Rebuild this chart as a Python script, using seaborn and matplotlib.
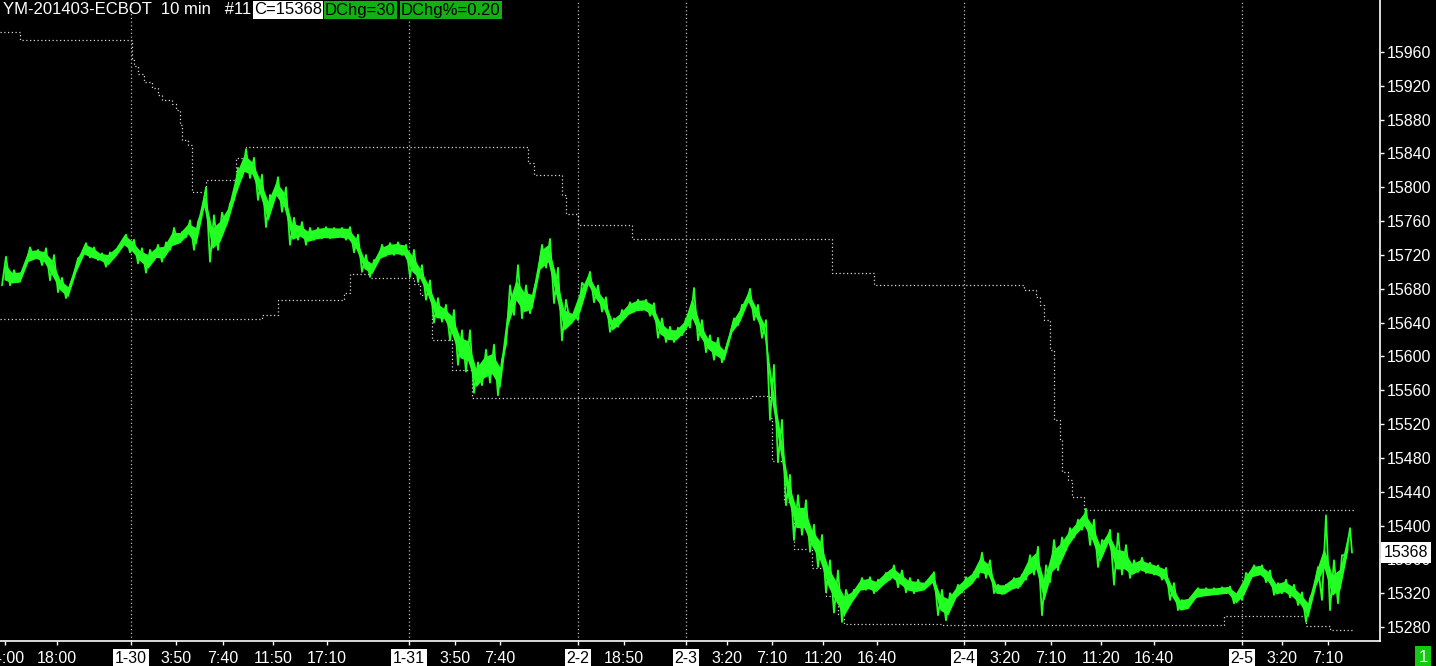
import numpy as np
import pandas as pd
import matplotlib
matplotlib.use("Agg")
import matplotlib.pyplot as plt
import seaborn as sns

# YM-201403 10 min bars (every 4th bar: high / low)
bar_high = [15718, 15702, 15700, 15729, 15726, 15728, 15720, 15693, 15684, 15716,
            15734, 15729, 15722, 15723, 15729, 15744, 15738, 15728, 15726, 15732,
            15735, 15752, 15747, 15761, 15759, 15800, 15767, 15770, 15781, 15823,
            15845, 15835, 15815, 15791, 15812, 15800, 15764, 15759, 15752, 15752,
            15753, 15752, 15752, 15753, 15744, 15720, 15714, 15732, 15734, 15735,
            15732, 15726, 15708, 15690, 15669, 15661, 15655, 15631, 15631, 15593,
            15608, 15614, 15596, 15684, 15708, 15684, 15679, 15732, 15739, 15705,
            15667, 15651, 15687, 15700, 15684, 15670, 15645, 15655, 15664, 15667,
            15667, 15663, 15645, 15635, 15634, 15645, 15681, 15643, 15625, 15622,
            15610, 15645, 15661, 15680, 15661, 15643, 15590, 15525, 15460, 15436,
            15430, 15401, 15389, 15359, 15347, 15324, 15324, 15338, 15339, 15336,
            15344, 15353, 15347, 15338, 15336, 15333, 15345, 15324, 15320, 15330,
            15339, 15345, 15368, 15359, 15330, 15330, 15338, 15342, 15365, 15375,
            15353, 15383, 15386, 15397, 15407, 15420, 15407, 15383, 15395, 15391,
            15377, 15359, 15362, 15356, 15353, 15350, 15332, 15312, 15314, 15326,
            15326, 15326, 15327, 15328, 15321, 15344, 15353, 15353, 15347, 15332,
            15336, 15330, 15321, 15314, 15351, 15412, 15359, 15365, 15397]
bar_low = [15684, 15684, 15688, 15708, 15716, 15708, 15690, 15676, 15669, 15696,
           15720, 15717, 15714, 15706, 15719, 15732, 15723, 15710, 15699, 15714,
           15712, 15726, 15734, 15741, 15726, 15771, 15712, 15726, 15755, 15785,
           15812, 15811, 15785, 15753, 15785, 15771, 15732, 15738, 15732, 15738,
           15740, 15740, 15741, 15738, 15723, 15700, 15694, 15712, 15719, 15720,
           15720, 15694, 15688, 15667, 15640, 15641, 15619, 15590, 15582, 15557,
           15566, 15569, 15554, 15614, 15649, 15645, 15651, 15696, 15705, 15663,
           15619, 15640, 15643, 15682, 15664, 15653, 15629, 15635, 15647, 15653,
           15655, 15648, 15622, 15617, 15617, 15625, 15634, 15619, 15605, 15596,
           15593, 15625, 15637, 15661, 15643, 15622, 15525, 15475, 15424, 15383,
           15389, 15369, 15351, 15321, 15297, 15286, 15308, 15321, 15324, 15320,
           15330, 15336, 15327, 15321, 15320, 15324, 15332, 15294, 15288, 15312,
           15321, 15330, 15339, 15338, 15320, 15319, 15324, 15326, 15336, 15342,
           15294, 15333, 15347, 15371, 15386, 15395, 15377, 15351, 15377, 15330,
           15342, 15338, 15345, 15344, 15342, 15336, 15312, 15300, 15302, 15315,
           15317, 15318, 15319, 15320, 15308, 15312, 15338, 15342, 15333, 15318,
           15320, 15315, 15306, 15286, 15324, 15312, 15300, 15308, 15365]
last_close = 15368

# price channel (step lines): bar number where a level starts, level
upper_bar = [0, 10, 66, 67, 69, 72, 76, 79, 81, 86, 88, 90, 91, 94, 96, 103, 118, 123,
             264, 267, 281, 283, 289, 316, 416, 437, 512, 518, 520, 522, 525, 527,
             530, 531, 534, 536, 542, 677]
upper_val = [15984, 15974, 15950, 15944, 15934, 15925, 15918, 15909, 15903, 15899,
             15891, 15874, 15856, 15850, 15794, 15809, 15835, 15848, 15829, 15815,
             15791, 15768, 15755, 15739, 15699, 15684, 15679, 15670, 15661, 15643,
             15608, 15525, 15501, 15463, 15454, 15434, 15418, 15418]
lower_bar = [0, 131, 139, 172, 175, 185, 207, 210, 216, 226, 236, 376, 385, 386, 392,
             397, 406, 413, 419, 422, 471, 612, 653, 665, 677]
lower_val = [15644, 15649, 15667, 15675, 15697, 15693, 15686, 15673, 15619, 15584,
             15551, 15553, 15527, 15476, 15428, 15372, 15350, 15317, 15295, 15284,
             15282, 15293, 15281, 15276, 15276]

# x axis: session starts and time marks (bar numbers)
day_bar = [65.5, 204.5, 289, 343, 482, 621]
day_label = ["1-30", "1-31", "2-2", "2-3", "2-4", "2-5"]
time_bar = [2.5, 28.5, 88, 111.5, 136.5, 163.5, 227.5, 250, 312, 363.5, 386,
            411.5, 438.5, 502.5, 525.5, 550.5, 577, 641, 664]
time_label = ["14:00", "18:00", "3:50", "7:40", "11:50", "17:10", "3:50", "7:40",
              "18:50", "3:20", "7:10", "11:20", "16:40", "3:20", "7:10", "11:20",
              "16:40", "3:20", "7:10"]
price_ticks = list(range(15280, 15961, 40))

sns.set_theme(style="dark", rc={"axes.facecolor": "black", "figure.facecolor": "black",
                                "axes.edgecolor": "white", "text.color": "white",
                                "xtick.color": "white", "ytick.color": "white"})
plt.rcParams["font.family"] = ["Liberation Sans", "DejaVu Sans"]

W, H = 1436, 666
fig = plt.figure(figsize=(W / 100, H / 100), dpi=100)
ax = fig.add_axes([0, 25 / H, 1380 / W, 641 / H])
ax.set_facecolor("black")

green = "#22ff22"
dot = (0, (1, 2))

# day separators
for b in day_bar:
    ax.axvline(b, color="#b8b8b8", lw=0.9, ls=dot, zorder=1)

# channel lines
sns.lineplot(x=upper_bar, y=upper_val, ax=ax, drawstyle="steps-post", color="#d8d8d8",
             lw=0.9, ls=dot, estimator=None, sort=False, zorder=2)
sns.lineplot(x=lower_bar, y=lower_val, ax=ax, drawstyle="steps-post", color="#d8d8d8",
             lw=0.9, ls=dot, estimator=None, sort=False, zorder=2)

# price bars: a body round the middle of each range, plus a sawtooth
# stroke through each sampled bar's low and high for the spiky texture
n = len(bar_high)
sample_bar = 2 + 4 * np.arange(n)
hi = np.array(bar_high, dtype=float)
lo = np.array(bar_low, dtype=float)
rng = hi - lo
mid = (hi + lo) / 2
half = np.minimum(rng / 2, np.minimum(np.maximum(6, 0.3 * rng), 12))
ax.fill_between(sample_bar, mid - half, mid + half, color=green, lw=0, zorder=3)
xs, ys = [], []
for k in range(n):
    xs += [sample_bar[k] - 1, sample_bar[k] + 1]
    ys += [bar_low[k], bar_high[k]]
xs.append(sample_bar[-1] + 2)
ys.append(last_close)
bars = pd.DataFrame({"bar": xs, "price": ys})
sns.lineplot(data=bars, x="bar", y="price", ax=ax, color=green, lw=1.3,
             estimator=None, sort=False, zorder=3)

ax.set_xlim(0, 690)
ax.set_ylim(15263.5, 16021.5)

# axes look
for s in ["top", "left"]:
    ax.spines[s].set_visible(False)
for s in ["bottom", "right"]:
    ax.spines[s].set_color("white")
    ax.spines[s].set_linewidth(1.2)
ax.grid(False)
ax.set_xlabel("")
ax.set_ylabel("")

ax.yaxis.tick_right()
ax.set_yticks(price_ticks)
ax.set_yticklabels([str(p) for p in price_ticks])
ax.tick_params(axis="y", direction="out", length=3, width=1, pad=2, labelsize=11.5,
               colors="white", right=True, left=False)

ticks = day_bar + time_bar
labels = day_label + time_label
ax.set_xticks(ticks)
ax.set_xticklabels(labels)
ax.tick_params(axis="x", direction="out", length=3, width=1, pad=4, labelsize=11.5,
               colors="white", bottom=True)
for lab in ax.get_xticklabels():
    if lab.get_text() in day_label:
        lab.set_color("black")
        lab.set_bbox(dict(facecolor="white", edgecolor="none", boxstyle="square,pad=0.12"))

# last price box on the price axis
ax.text(1.0 + 4 / 1380, last_close, str(last_close), transform=ax.get_yaxis_transform(),
        ha="left", va="center", fontsize=11.5, color="black", zorder=10, clip_on=False,
        bbox=dict(facecolor="white", edgecolor="none", boxstyle="square,pad=0.18"))

# header
ty = 1 - 10 / H
fig.text(3 / W, ty, "YM-201403-ECBOT  10 min   #11", color="white", fontsize=12, va="center")
fig.text(254 / W, ty, "C=15368", color="black", fontsize=12, va="center",
         bbox=dict(facecolor="white", edgecolor="none", boxstyle="square,pad=0.08"))
fig.text(325 / W, ty, "DChg=30", color="black", fontsize=12, va="center",
         bbox=dict(facecolor="#12b012", edgecolor="none", boxstyle="square,pad=0.08"))
fig.text(401 / W, ty, "DChg%=0.20", color="black", fontsize=12, va="center",
         bbox=dict(facecolor="#12b012", edgecolor="none", boxstyle="square,pad=0.08"))

# page marker, bottom right
fig.text(1423 / W, 9 / H, "1", color="white", fontsize=12, ha="center", va="center",
         bbox=dict(facecolor="#14c814", edgecolor="none", boxstyle="square,pad=0.2"))

fig.savefig("out.png", dpi=100, facecolor="black")
